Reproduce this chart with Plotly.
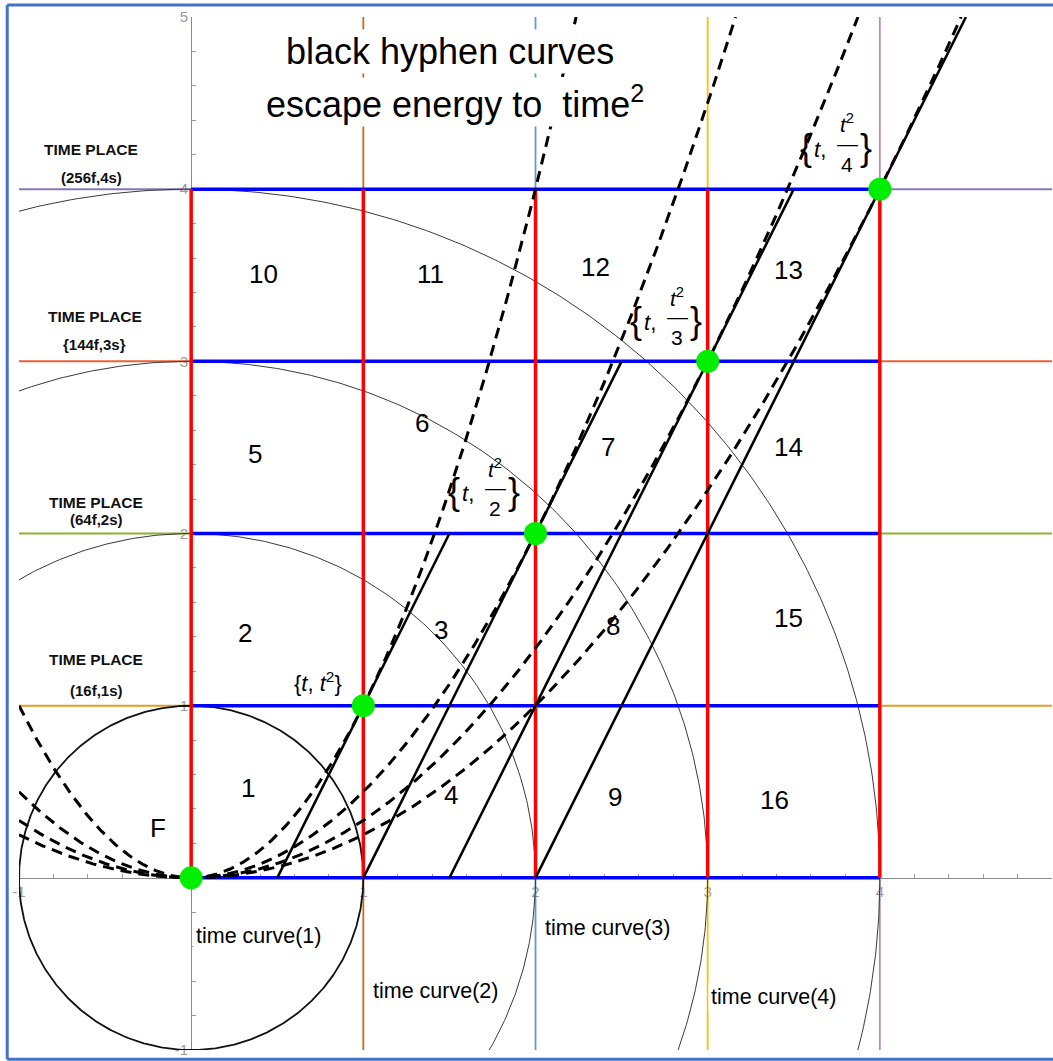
import numpy as np
import plotly.graph_objects as go

# ---------------- data ----------------
time_steps = [1, 2, 3, 4]                      # time places (s)
h_line_colors = ["#E19C24", "#8FB032", "#EB6235", "#8778B3"]
v_line_colors = ["#C56E1A", "#5D9EC7", "#FFBF00", "#B38BC2"]
circle_radii = [1, 2, 3, 4]
parabola_divisors = [1, 2, 3, 4]               # dashed curves y = t^2 / k
tangent_slope = 2
tangent_end_y = [2, 3, 4, 5]                   # solid tangent lines end heights
grid_levels = [0, 1, 2, 3, 4]
point_x = [0, 1, 2, 3, 4]
point_y = [0, 1, 2, 3, 4]

place_titles = ["TIME PLACE", "TIME PLACE", "TIME PLACE", "TIME PLACE"]
place_labels = ["(16f,1s)", "(64f,2s)", "{144f,3s}", "(256f,4s)"]
place_x = [-0.55, -0.55, -0.56, -0.58]
place_title_y = [1.27, 2.18, 3.26, 4.23]
place_label_y = [1.09, 2.08, 3.10, 4.07]

cell_names = ["1", "2", "3", "4", "5", "6", "7", "8", "9", "10",
              "11", "12", "13", "14", "15", "16", "F"]
cell_x = [0.33, 0.31, 1.45, 1.51, 0.37, 1.34, 2.42, 2.45, 2.46, 0.42,
          1.39, 2.35, 3.47, 3.47, 3.47, 3.39, -0.19]
cell_y = [0.52, 1.42, 1.44, 0.48, 2.46, 2.64, 2.50, 1.46, 0.47, 3.51,
          3.51, 3.55, 3.53, 2.50, 1.51, 0.45, 0.29]

curve_names = ["time curve(1)", "time curve(2)", "time curve(3)", "time curve(4)"]
curve_label_x = [0.01, 1.04, 2.04, 3.00]
curve_label_y = [-0.34, -0.66, -0.29, -0.69]

pair_divisors = [1, 2, 3, 4]
pair_label_x = [0.587, 1.492, 2.549, 3.537]
pair_label_y = [1.138, 2.236, 3.229, 4.239]

title_lines = ["black hyphen curves", "escape energy to  time<sup>2</sup>"]
title_x = [1.504, 1.533]
title_y = [4.80, 4.505]

x_range = [-1, 5]
y_range = [-1, 5]
tick_vals = [-1, 1, 2, 3, 4, 5]
tick_text = ["-1", "1", "2", "3", "4", "5"]

# ---------------- figure ----------------
fig = go.Figure()

# thin coloured time-place / time-curve lines
for lvl, col in zip(time_steps, h_line_colors):
    fig.add_trace(go.Scatter(x=[x_range[0], x_range[1]], y=[lvl, lvl], mode="lines",
                             line=dict(color=col, width=2), hoverinfo="skip"))
for lvl, col in zip(time_steps, v_line_colors):
    fig.add_trace(go.Scatter(x=[lvl, lvl], y=[y_range[0], y_range[1]], mode="lines",
                             line=dict(color=col, width=1.8), hoverinfo="skip"))

# circles
theta = np.linspace(0, 2 * np.pi, 721)
for r in circle_radii:
    fig.add_trace(go.Scatter(x=r * np.cos(theta), y=r * np.sin(theta), mode="lines",
                             line=dict(color="#111111" if r == 1 else "#3a3a3a",
                                       width=1.8 if r == 1 else 1.0),
                             hoverinfo="skip"))

# blue horizontal and red vertical grid
g0, g1 = grid_levels[0], grid_levels[-1]
for lvl in grid_levels:
    fig.add_trace(go.Scatter(x=[g0, g1], y=[lvl, lvl], mode="lines",
                             line=dict(color="#0000FF", width=3.5), hoverinfo="skip"))
for lvl in grid_levels:
    fig.add_trace(go.Scatter(x=[lvl, lvl], y=[g0, g1], mode="lines",
                             line=dict(color="#FF0000", width=3.5), hoverinfo="skip"))

# dashed parabolas y = t^2/k
for k in parabola_divisors:
    t = np.linspace(x_range[0], np.sqrt(y_range[1] * k), 600)
    fig.add_trace(go.Scatter(x=t, y=t ** 2 / k, mode="lines",
                             line=dict(color="black", width=3, dash="11px,7px"),
                             hoverinfo="skip"))

# solid tangent lines (slope 2) through (k, k)
for k, ytop in zip(parabola_divisors, tangent_end_y):
    ys = np.array([0, ytop])
    xs = k + (ys - k) / tangent_slope
    fig.add_trace(go.Scatter(x=xs, y=ys, mode="lines",
                             line=dict(color="black", width=2.5), hoverinfo="skip"))

# green points
fig.add_trace(go.Scatter(x=point_x, y=point_y, mode="markers",
                         marker=dict(color="#00EE00", size=23), hoverinfo="skip"))

ann = []
FONT = "Liberation Sans, Arial, sans-serif"

for txt, x, y in zip(title_lines, title_x, title_y):
    ann.append(dict(x=x, y=y, text=txt, showarrow=False, bgcolor="white",
                    font=dict(family=FONT, size=36, color="black")))

for t1, t2, x, y1, y2 in zip(place_titles, place_labels, place_x, place_title_y, place_label_y):
    ann.append(dict(x=x, y=y1, text="<b>" + t1 + "</b>", showarrow=False,
                    font=dict(family=FONT, size=15.5, color="#111111")))
    ann.append(dict(x=x, y=y2, text="<b>" + t2 + "</b>", showarrow=False,
                    font=dict(family=FONT, size=15, color="#111111")))

for txt, x, y in zip(cell_names, cell_x, cell_y):
    ann.append(dict(x=x, y=y, text=txt, showarrow=False,
                    font=dict(family=FONT, size=26, color="black")))

for txt, x, y in zip(curve_names, curve_label_x, curve_label_y):
    ann.append(dict(x=x, y=y, text=txt, showarrow=False, xanchor="left", bgcolor="white",
                    borderpad=2, font=dict(family=FONT, size=21.5, color="black")))

for k, x, y in zip(pair_divisors, pair_label_x, pair_label_y):
    if k == 1:
        ann.append(dict(x=x, y=y, text="{<i>t</i>, <i>t</i><sup>2</sup>}", showarrow=False,
                        xanchor="left", font=dict(family=FONT, size=22, color="black")))
        continue
    base = dict(x=x, y=y, showarrow=False, yanchor="middle")
    ann.append(dict(base, text="{", xanchor="left", xshift=-2, yshift=1,
                    font=dict(family=FONT, size=36, color="black")))
    ann.append(dict(base, text="<i>t</i>,", xanchor="left", xshift=12, yshift=-1,
                    font=dict(family=FONT, size=22, color="black")))
    ann.append(dict(base, text="<i>t</i><sup>2</sup>", xanchor="center", xshift=47, yshift=25,
                    font=dict(family=FONT, size=21, color="black")))
    ann.append(dict(base, text="\u2014", xanchor="center", xshift=47, yshift=5,
                    font=dict(family=FONT, size=21, color="black")))
    ann.append(dict(base, text=str(k), xanchor="center", xshift=47, yshift=-16,
                    font=dict(family=FONT, size=21, color="black")))
    ann.append(dict(base, text="}", xanchor="left", xshift=58, yshift=1,
                    font=dict(family=FONT, size=36, color="black")))

axis_common = dict(showgrid=False, zeroline=False, showline=True,
                   linecolor="#8a8a8a", linewidth=1, ticks="inside", ticklen=6,
                   tickcolor="#8a8a8a", tickwidth=1, tickmode="array",
                   tickvals=tick_vals, ticktext=tick_text, anchor="free",
                   layer="below traces",
                   tickfont=dict(family=FONT, size=15, color="#9a9a9a"),
                   minor=dict(ticks="inside", ticklen=4, tickcolor="#9a9a9a",
                              tick0=0, dtick=0.2, showgrid=False))

xa = dict(axis_common); xa["range"] = x_range; xa["side"] = "bottom"
xa["position"] = (0 - y_range[0]) / (y_range[1] - y_range[0])
ya = dict(axis_common); ya["range"] = y_range; ya["side"] = "left"
ya["position"] = (0 - x_range[0]) / (x_range[1] - x_range[0])

# image frame
frame = dict(type="line", xref="paper", yref="paper", line=dict(color="#4472C4", width=3))
shapes = [
    dict(frame, x0=-0.0114, x1=-0.0114, y0=-0.009, y1=1.0115),
    dict(frame, x0=-0.0114, x1=1.02, y0=1.0115, y1=1.0115),
    dict(frame, x0=-0.0114, x1=1.02, y0=-0.009, y1=-0.009),
]

fig.update_layout(
    width=1053, height=1061, autosize=False,
    margin=dict(l=19, r=1, t=17, b=11),
    paper_bgcolor="white", plot_bgcolor="white",
    showlegend=False, xaxis=xa, yaxis=ya,
    annotations=ann, shapes=shapes,
)

fig.write_html("out.html", config={"displayModeBar": False},
               post_script="document.body.style.margin='0px';document.body.style.overflow='hidden';")
